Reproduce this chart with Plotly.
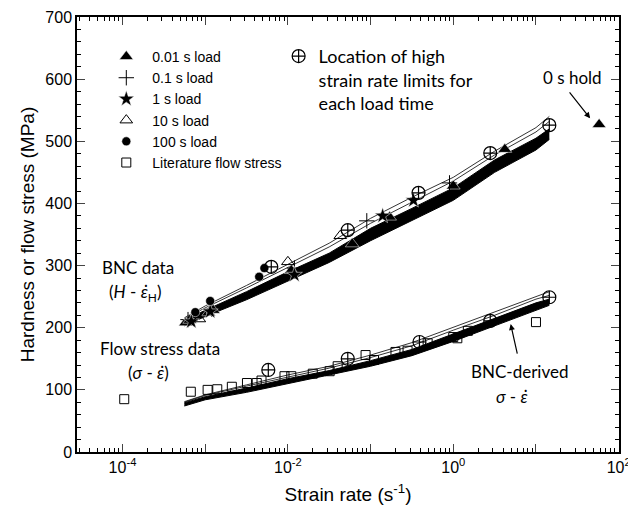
import plotly.graph_objects as go

# ---- data ----
# band grid (strain rate, s^-1)
band_x = [5.6e-4, 1e-3, 3.16e-3, 1e-2, 3.16e-2, 0.1, 0.316, 1.0, 3.16, 10.0, 14.5]
# upper band: BNC hardness data
upper_low = [203, 218, 245, 275, 305, 340, 372, 405, 450, 486, 503]
upper_dark = [212, 228, 258, 290, 320, 360, 392, 425, 470, 505, 520]
upper_thin1 = [214, 232, 264, 297, 330, 368, 402, 436, 478, 515, 532]
upper_thin2 = [216, 235, 268, 302, 336, 376, 410, 442, 484, 522, 540]
# lower band: BNC-derived flow stress
lower_low = [74, 84, 96, 110, 123, 138, 155, 178, 203, 228, 236]
lower_dark = [79, 89, 103, 118, 131, 147, 165, 190, 214, 240, 246]
lower_thin1 = [80, 91, 106, 121, 135, 152, 171, 196, 220, 246, 252]
lower_thin2 = [81, 92, 108, 124, 138, 156, 176, 201, 225, 251, 258]

load001_x = [5.8e-4, 6.5e-4, 1.1e-3, 1.25e-3, 1.1e-2, 6e-2, 0.17, 1.0, 4.2, 58]
load001_y = [208, 212, 224, 228, 292, 335, 378, 428, 487, 527]
load01_x = [6.2e-4, 1.2e-3, 1.2e-2, 0.09, 0.9]
load01_y = [213, 230, 296, 372, 433]
load1_x = [6.8e-4, 1.15e-3, 1.2e-2, 0.14, 0.33]
load1_y = [210, 226, 285, 380, 405]
load10_x = [8.5e-4, 1.0e-2, 4.3e-2]
load10_y = [214, 306, 348]
load100_x = [7.6e-4, 1.15e-3, 4.5e-3, 5.2e-3]
load100_y = [225, 243, 282, 296]
lit_x = [1.05e-4, 6.7e-4, 1.07e-3, 1.4e-3, 2.1e-3, 3.2e-3, 4.2e-3, 4.8e-3,
         9.1e-3, 1.1e-2, 2.0e-2, 3.2e-2, 4.0e-2, 8.7e-2, 0.11, 0.2, 0.28,
         0.49, 1.0, 1.12, 1.5, 10.0]
lit_y = [85, 97, 100, 101, 105, 111, 111, 115, 122, 122, 126, 130, 138,
         156, 148, 161, 163, 175, 185, 183, 195, 209]
limit_up_x = [6.3e-3, 5.3e-2, 0.38, 2.8, 14.5]
limit_up_y = [298, 357, 417, 481, 526]
limit_lo_x = [5.8e-3, 5.3e-2, 0.39, 2.8, 14.5]
limit_lo_y = [132, 150, 177, 211, 249]

x_major = [1e-4, 1e-3, 1e-2, 1e-1, 1e0, 1e1, 1e2]
x_major_text = ["10<sup>-4</sup>", "", "10<sup>-2</sup>", "", "10<sup>0</sup>", "", "10<sup>2</sup>"]
y_ticks = [0, 100, 200, 300, 400, 500, 600, 700]

fig = go.Figure()

def band(low, dark, t1, t2):
    fig.add_trace(go.Scatter(x=band_x, y=low, mode="lines", line=dict(color="black", width=1),
                             showlegend=False, hoverinfo="skip"))
    fig.add_trace(go.Scatter(x=band_x, y=dark, mode="lines", line=dict(color="black", width=1),
                             fill="tonexty", fillcolor="black", showlegend=False, hoverinfo="skip"))
    for t in (t1, t2):
        fig.add_trace(go.Scatter(x=band_x, y=t, mode="lines", line=dict(color="black", width=0.8),
                                 showlegend=False, hoverinfo="skip"))

band(upper_low, upper_dark, upper_thin1, upper_thin2)
band(lower_low, lower_dark, lower_thin1, lower_thin2)

fig.add_trace(go.Scatter(x=load001_x, y=load001_y, mode="markers", name="0.01 s load",
                         marker=dict(symbol="triangle-up", size=12, color="black",
                                     line=dict(color="white", width=0.5))))
fig.add_trace(go.Scatter(x=load01_x, y=load01_y, mode="markers", name="0.1 s load",
                         marker=dict(symbol="cross-thin-open", size=11, color="black",
                                     line=dict(color="black", width=1))))
fig.add_trace(go.Scatter(x=load1_x, y=load1_y, mode="markers", name="1 s load",
                         marker=dict(symbol="star", size=12, color="black",
                                     line=dict(color="white", width=0.5))))
fig.add_trace(go.Scatter(x=load10_x, y=load10_y, mode="markers", name="10 s load",
                         marker=dict(symbol="triangle-up-open", size=11, color="black",
                                     line=dict(color="black", width=1))))
fig.add_trace(go.Scatter(x=load100_x, y=load100_y, mode="markers", name="100 s load",
                         marker=dict(symbol="circle", size=9, color="black",
                                     line=dict(color="white", width=0.5))))
fig.add_trace(go.Scatter(x=lit_x, y=lit_y, mode="markers", name="Literature flow stress",
                         marker=dict(symbol="square-open", size=9, color="black",
                                     line=dict(color="black", width=1))))
fig.add_trace(go.Scatter(x=limit_up_x, y=limit_up_y, mode="markers",
                         name="Location of high<br>strain rate limits for<br>each load time",
                         legend="legend2",
                         marker=dict(symbol="circle-cross-open", size=13, color="black",
                                     line=dict(color="black", width=1.2))))
fig.add_trace(go.Scatter(x=limit_lo_x, y=limit_lo_y, mode="markers", showlegend=False,
                         marker=dict(symbol="circle-cross-open", size=13, color="black",
                                     line=dict(color="black", width=1.2))))

sans = "Liberation Sans, Arial, sans-serif"
cal = "Lato, Open Sans, sans-serif"

minor_x = [m * 10.0 ** e for e in range(-5, 2) for m in range(2, 10)]

fig.update_xaxes(type="log", range=[-4.55, 2.004], tickmode="array", tickvals=x_major,
                 ticktext=x_major_text, ticks="inside", ticklen=8, tickwidth=1.2,
                 ticklabeloverflow="allow", automargin=False,
                 showline=True, linecolor="black", linewidth=1.5, mirror="ticks",
                 showgrid=False, zeroline=False,
                 tickfont=dict(family=sans, size=16, color="black"),
                 minor=dict(tickvals=minor_x, ticks="inside", ticklen=4, tickcolor="black",
                            showgrid=False),
                 title=dict(text="Strain rate (s<sup>-1</sup>)", font=dict(family=sans, size=19, color="black"),
                            standoff=13))
fig.update_yaxes(range=[0, 700], tickmode="array", tickvals=y_ticks, ticks="inside",
                 ticklen=8, tickwidth=1.2, showline=True, linecolor="black", linewidth=1.5,
                 mirror="ticks", showgrid=False, zeroline=False, automargin=False,
                 tickfont=dict(family=sans, size=16, color="black"),
                 minor=dict(dtick=20, ticks="inside", ticklen=4, tickcolor="black", showgrid=False),
                 title=dict(text="Hardness or flow stress (MPa)", font=dict(family=sans, size=19, color="black"),
                            standoff=6))

ann = []
def txt(t, x, y, size=17, xa="center"):
    ann.append(dict(text=t, x=x, y=y, xref="paper", yref="paper", showarrow=False,
                    xanchor=xa, yanchor="middle", font=dict(family=cal, size=size, color="black")))

txt("BNC data", 0.113, 0.423)
txt("(<i>H</i> - <i>ε̇</i><sub>H</sub>)", 0.107, 0.366)
txt("Flow stress data", 0.153, 0.239)
txt("(<i>σ</i> - <i>ε̇</i>)", 0.131, 0.182)
txt("BNC-derived", 0.817, 0.184)
txt("<i>σ</i> - <i>ε̇</i>", 0.803, 0.127)
txt("0 s hold", 0.915, 0.862)

# arrows
ann.append(dict(x=1.655, y=537, ax=1.37, ay=585, xref="x", yref="y", axref="x", ayref="y",
                text=" ", showarrow=True, arrowhead=2, arrowsize=1, arrowwidth=1.2,
                arrowcolor="black", standoff=0, startstandoff=0))
ann.append(dict(x=0.694, y=206, ax=0.778, ay=156, xref="x", yref="y", axref="x", ayref="y",
                text="", showarrow=True, arrowhead=2, arrowsize=1, arrowwidth=1.2, arrowcolor="black"))

fig.update_layout(
    width=628, height=516, margin=dict(l=77, r=9, t=17, b=64, autoexpand=False),
    paper_bgcolor="white", plot_bgcolor="white",
    annotations=ann,
    legend=dict(x=0.043, y=0.945, xanchor="left", yanchor="top", bgcolor="rgba(0,0,0,0)",
                font=dict(family=sans, size=14, color="black"), traceorder="normal",
                itemwidth=42),
    legend2=dict(x=0.372, y=0.952, xanchor="left", yanchor="top", bgcolor="rgba(0,0,0,0)",
                 font=dict(family=cal, size=18, color="black"), valign="top", itemwidth=30),
)

fig.write_html("out.html")
